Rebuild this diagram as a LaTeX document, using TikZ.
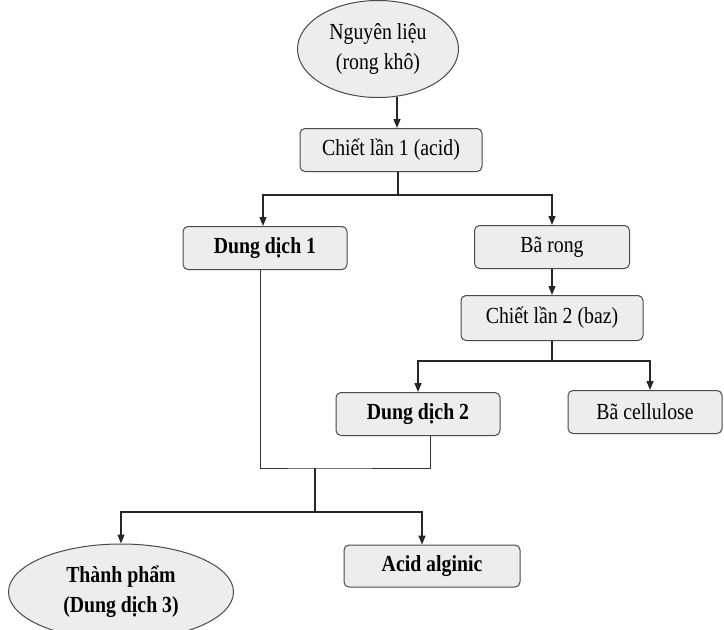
\documentclass[tikz,border=0pt]{standalone}
\usepackage{fontspec}
\setmainfont{Liberation Serif}[FakeStretch=0.86]
\usetikzlibrary{shapes.geometric,arrows.meta,calc}
\definecolor{boxfill}{HTML}{EDEDED}
\definecolor{boxline}{HTML}{4A4A4A}
\tikzset{
  stepbox/.style={draw=boxline, fill=boxfill, rounded corners=5pt, line width=1pt,
    inner sep=0pt, align=center, font=\fontsize{23}{29}\selectfont},
  oval/.style={ellipse, draw=boxline, fill=boxfill, line width=1pt,
    inner sep=0pt, align=center, font=\fontsize{23}{30}\selectfont},
  link/.style={draw=black!85, line width=1.4pt},
  thin link/.style={draw=black!80, line width=0.9pt},
  arr/.style={link, -{Triangle[length=9pt,width=7pt]}}
}
\begin{document}
\begin{tikzpicture}[x=1pt,y=-1pt]
\useasboundingbox (0,0) rectangle (724,630);
\clip (0,0) rectangle (724,630);

\node[oval, minimum width=161pt, minimum height=97pt] (e1) at (378,49) {Nguyên liệu\\(rong khô)};
\node[stepbox, minimum width=182pt, minimum height=43pt] (c1) at (391,150) {Chiết lần 1 (acid)};
\node[stepbox, minimum width=164pt, minimum height=43pt] (d1) at (265,248) {\bfseries Dung dịch 1};
\node[stepbox, minimum width=155pt, minimum height=43pt] (br) at (552,247) {Bã rong};
\node[stepbox, minimum width=182pt, minimum height=45pt] (c2) at (552,318) {Chiết lần 2 (baz)};
\node[stepbox, minimum width=164pt, minimum height=43pt] (d2) at (418,414) {\bfseries Dung dịch 2};
\node[stepbox, minimum width=154pt, minimum height=43pt] (bc) at (645,412) {Bã cellulose};
\node[stepbox, minimum width=176pt, minimum height=42pt] (aa) at (432,566) {\bfseries Acid alginic};
\node[oval, minimum width=225pt, minimum height=96pt] (e2) at (121,592) {\bfseries Thành phẩm\\\bfseries (Dung dịch 3)};

% top arrow
\coordinate (a0) at ($(e1.south)+(19,-1)$);
\draw[arr] (a0) -- (a0 |- c1.north);

% split 1
\coordinate (s1) at (398,195);
\draw[link] (s1 |- c1.south) -- (s1);
\draw[arr] (s1) -| (d1.north -| 263,0);
\draw[arr] (s1) -| (br.north);

\draw[arr] (br.south) -- (c2.north);

% split 2
\coordinate (s2) at (552,361);
\draw[link] (c2.south) -- (s2);
\draw[arr] (s2) -| (d2.north);
\draw[arr] (s2) -| (bc.north -| 650,0);

% merge
\coordinate (m1) at (315,468);
\draw[thin link] (d1.south -| 260,0) |- (m1) -| (d2.south -| 430,0);

% split 3
\coordinate (s3) at (315,512);
\draw[link] (m1) -- (s3);
\draw[arr] (s3) -| (e2.north);
\draw[arr] (s3) -| (aa.north -| 422,0);
\end{tikzpicture}
\end{document}
